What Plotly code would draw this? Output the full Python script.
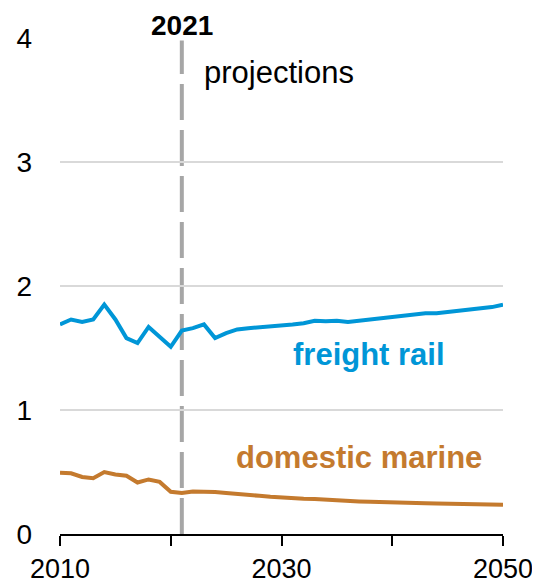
import plotly.graph_objects as go

years = list(range(2010, 2051))

freight_rail = [1.69, 1.73, 1.71, 1.73, 1.85, 1.73, 1.58, 1.54, 1.67, 1.59,
                1.51, 1.64, 1.66, 1.69, 1.58, 1.62, 1.65, 1.66, 1.667, 1.67,
                1.68, 1.69, 1.70, 1.72, 1.715, 1.72, 1.71, 1.72, 1.73, 1.74,
                1.75, 1.76, 1.77, 1.78, 1.78, 1.79, 1.80, 1.81, 1.82, 1.83, 1.85]

domestic_marine = [0.494, 0.49, 0.46, 0.45, 0.50, 0.48, 0.47, 0.415, 0.44, 0.42,
                   0.34, 0.33, 0.343, 0.343, 0.338, 0.33, 0.325, 0.317, 0.308, 0.30,
                   0.292, 0.29, 0.284, 0.282, 0.276, 0.27, 0.266, 0.263, 0.26, 0.256,
                   0.252, 0.25, 0.249, 0.247, 0.245, 0.243, 0.241, 0.24, 0.239, 0.238,
                   0.236]

x_tickvals = [2010, 2020, 2030, 2040, 2050]
x_ticktext = ["2010", "", "2030", "", "2050"]
y_tickvals = [0, 1, 2, 3, 4]

projection_year = 2021

BLUE = "#0096D7"
BROWN = "#C47A2E"
FONT = "Liberation Sans, Arial, sans-serif"

fig = go.Figure()
fig.add_trace(go.Scatter(x=years, y=freight_rail, mode="lines",
                         line=dict(color=BLUE, width=4), showlegend=False))
fig.add_trace(go.Scatter(x=years, y=domestic_marine, mode="lines",
                         line=dict(color=BROWN, width=4), showlegend=False))

fig.add_shape(type="line", xref="x", yref="y", x0=projection_year, x1=projection_year,
              y0=0, y1=3.98, line=dict(color="#A6A6A6", width=4, dash="36px,10px"),
              layer="below")

fig.add_annotation(x=projection_year, xref="x", y=1.0, yref="paper", yanchor="middle",
                   text="<b>2021</b>", showarrow=False, yshift=13, borderpad=0,
                   font=dict(family=FONT, size=28, color="black"))
fig.add_annotation(x=2022.8, xref="x", y=3.72, yref="y", xanchor="left", yanchor="middle",
                   text="projections", showarrow=False,
                   font=dict(family=FONT, size=31, color="black"))
fig.add_annotation(x=2037.9, xref="x", y=1.45, yref="y", xanchor="center", yanchor="middle",
                   text="<b>freight rail</b>", showarrow=False,
                   font=dict(family=FONT, size=31, color=BLUE))
fig.add_annotation(x=2037.0, xref="x", y=0.615, yref="y", xanchor="center", yanchor="middle",
                   text="<b>domestic marine</b>", showarrow=False,
                   font=dict(family=FONT, size=31, color=BROWN))

fig.update_layout(
    width=532, height=578,
    margin=dict(l=52, r=37, t=30, b=52),
    paper_bgcolor="white", plot_bgcolor="white",
    font=dict(family=FONT, size=28, color="black"),
)
fig.update_xaxes(range=[2010, 2050], tickvals=x_tickvals, ticktext=x_ticktext,
                 showgrid=False, showline=True, linecolor="black", linewidth=2,
                 ticks="outside", ticklen=10, tickwidth=2, tickcolor="black",
                 ticklabelstandoff=0, zeroline=False, automargin=False,
                 tickfont=dict(family=FONT, size=27, color="black"))
fig.update_yaxes(range=[0, 4], tickvals=y_tickvals, showgrid=True, gridcolor="#D9D9D9",
                 gridwidth=2, showline=False, zeroline=False, ticks="",
                 ticklabelstandoff=27, automargin=False,
                 tickfont=dict(family=FONT, size=28, color="black"))

fig.write_html("out.html")
